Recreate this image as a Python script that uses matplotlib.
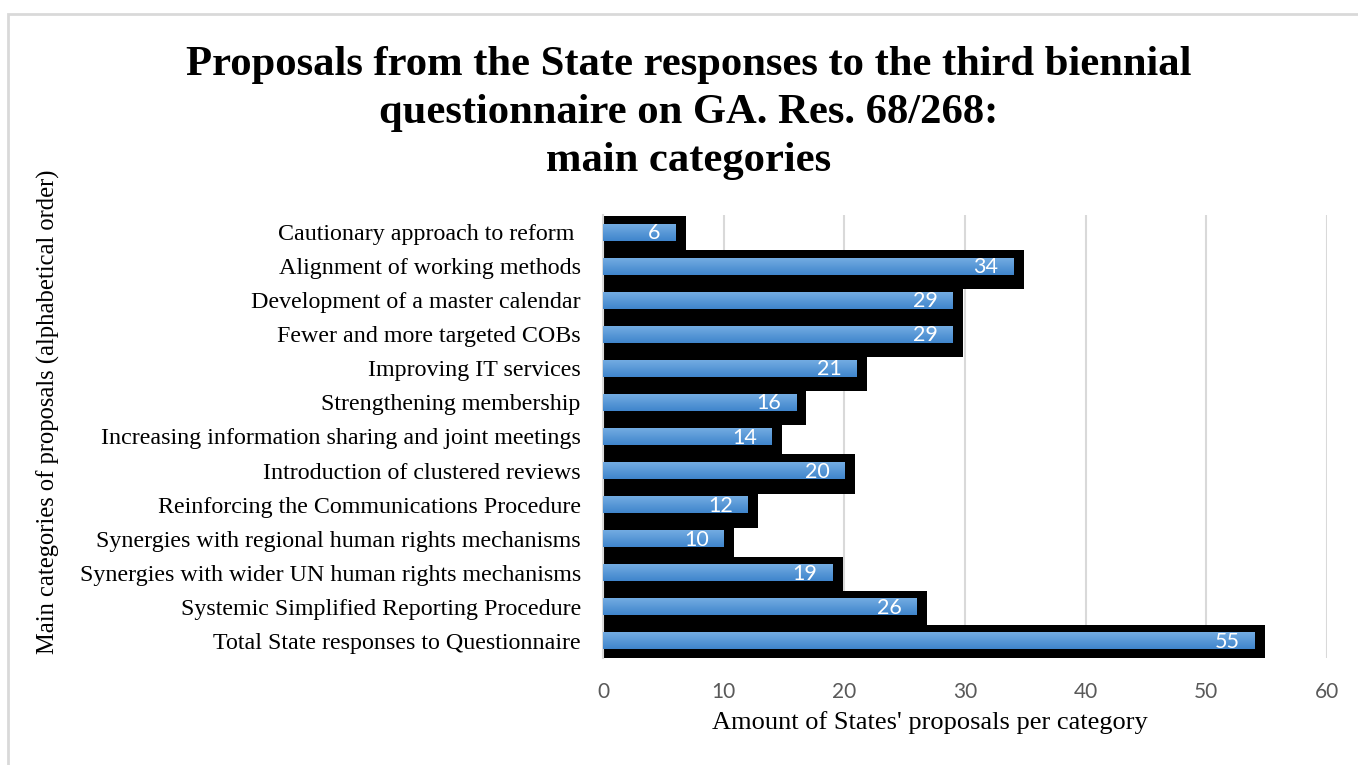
import numpy as np
import matplotlib.pyplot as plt
from matplotlib.patches import Rectangle
from matplotlib.colors import LinearSegmentedColormap

# categories in display order, top to bottom
categories = [
    "Cautionary approach to reform ",
    "Alignment of working methods",
    "Development of a master calendar",
    "Fewer and more targeted COBs",
    "Improving IT services",
    "Strengthening membership",
    "Increasing information sharing and joint meetings",
    "Introduction of clustered reviews",
    "Reinforcing the Communications Procedure",
    "Synergies with regional human rights mechanisms",
    "Synergies with wider UN human rights mechanisms",
    "Systemic Simplified Reporting Procedure",
    "Total State responses to Questionnaire",
]
bar_values = [6, 34, 29, 29, 21, 16, 14, 20, 12, 10, 19, 26, 54]
label_values = [6, 34, 29, 29, 21, 16, 14, 20, 12, 10, 19, 26, 55]
xticks = [0, 10, 20, 30, 40, 50, 60]

fig = plt.figure(figsize=(13.58, 7.65), dpi=100)

# light grey chart frame
fig.patches.append(Rectangle((8 / 1358, -0.1), 1.2, (765 - 14) / 765 + 0.1,
                             transform=fig.transFigure, fill=False,
                             edgecolor="#d9d9d9", linewidth=2))

ax = fig.add_axes([603 / 1358, 107 / 765, 724 / 1358, 443 / 765])

y = np.arange(len(categories))

# black shadow behind each bar
shadow_dx = 0.85
ax.barh(y + 0.1, np.array(bar_values) + shadow_dx, height=1.15,
        color="black", zorder=2)

# blue gradient bars
blues = LinearSegmentedColormap.from_list("b", ["#76aee3", "#3f85cc"])
grad = np.linspace(0, 1, 64).reshape(-1, 1)
bars = ax.barh(y, bar_values, height=0.5, color="#5b9bd5", zorder=3)
for b in bars:
    x0, y0 = b.get_x(), b.get_y()
    w, h = b.get_width(), b.get_height()
    im = ax.imshow(grad, extent=[x0, x0 + w, y0 + h, y0], aspect="auto",
                   cmap=blues, zorder=4, interpolation="bilinear")
    im.set_clip_path(b)
ax.set_ylim(len(categories) - 0.5, -0.5)
ax.set_xlim(0, 60)

for yi, v, lab in zip(y, bar_values, label_values):
    ax.text(v - 1.25, yi + 0.03, str(lab), ha="right", va="center",
            color="white", fontsize=15.5, family="Lato", zorder=5)

ax.set_xticks(xticks)
ax.set_xticklabels([str(t) for t in xticks], family="Lato", fontsize=15,
                   color="#595959")
ax.set_yticks(y)
ax.set_yticklabels(categories, family="Liberation Serif", fontsize=17.3)
ax.tick_params(axis="both", length=0)
ax.tick_params(axis="y", pad=16)
ax.tick_params(axis="x", pad=17)

ax.grid(axis="x", color="#d9d9d9", linewidth=1.5, zorder=0)
ax.set_axisbelow(True)
for s in ["top", "right", "bottom"]:
    ax.spines[s].set_visible(False)
ax.spines["left"].set_color("#d9d9d9")
ax.spines["left"].set_linewidth(1.5)

fig.text(689 / 1358, 1 - 113 / 765,
         "Proposals from the State responses to the third biennial\n"
         "questionnaire on GA. Res. 68/268:\nmain categories",
         ha="center", va="center", family="Liberation Serif",
         fontweight="bold", fontsize=30.7, linespacing=1.36)
fig.text(929.5 / 1358, 1 - 723 / 765, "Amount of States' proposals per category",
         ha="center", va="center", family="Liberation Serif", fontsize=19)
fig.text(48 / 1358, 1 - 412 / 765,
         "Main categories of proposals (alphabetical order)",
         ha="center", va="center", rotation=90, family="Liberation Serif",
         fontsize=17.7)

fig.savefig("out.png", dpi=100)
